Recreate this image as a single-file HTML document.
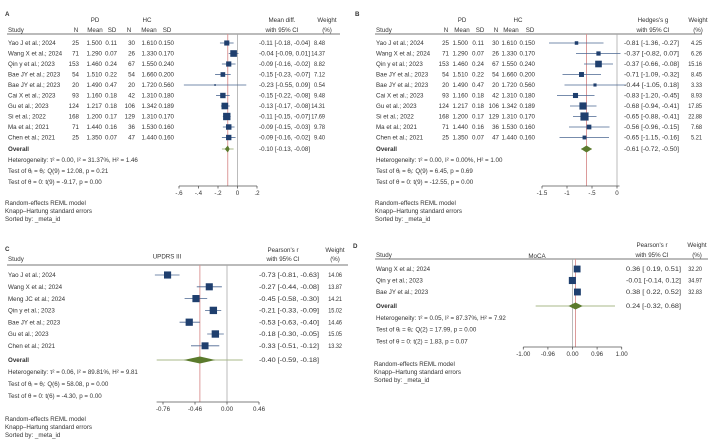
<!DOCTYPE html>
<html><head><meta charset="utf-8"><style>
html,body{margin:0;padding:0;background:#fff;width:709px;height:440px;overflow:hidden}
svg{display:block;font-family:"Liberation Sans",sans-serif}
text{font-size:6.2px;fill:#333}
</style></head><body>
<svg id="fig" width="709" height="440" viewBox="0 0 709 440"></svg>
<script>
// ---- shared table data (panels A, B) ----
const studiesAB = ["Yao J et al.; 2024","Wang X et al.; 2024","Qin y et al.; 2023","Bae JY et al.; 2023","Bae JY et al.; 2023","Cai X et al.; 2023","Gu et al.; 2023","Si  et al.; 2022","Ma  et al.; 2021","Chen  et al.; 2021"];
const pdN = ["25","71","153","54","20","93","124","168","71","25"];
const pdMean = ["1.500","1.290","1.460","1.510","1.490","1.160","1.217","1.200","1.440","1.350"];
const pdSD = ["0.11","0.07","0.24","0.22","0.47","0.18","0.18","0.17","0.16","0.07"];
const hcN = ["30","26","67","54","20","42","106","129","36","47"];
const hcMean = ["1.610","1.330","1.550","1.660","1.720","1.310","1.342","1.310","1.530","1.440"];
const hcSD = ["0.150","0.170","0.240","0.200","0.560","0.180","0.189","0.170","0.160","0.160"];
// ---- panel A ----
const aEst = [-0.11,-0.04,-0.09,-0.15,-0.23,-0.15,-0.13,-0.11,-0.09,-0.09];
const aLo = [-0.18,-0.09,-0.16,-0.23,-0.55,-0.22,-0.17,-0.15,-0.15,-0.16];
const aHi = [-0.04,0.01,-0.02,-0.07,0.09,-0.08,-0.08,-0.07,-0.03,-0.02];
const aW = [8.48,14.37,8.82,7.12,0.54,9.48,14.31,17.69,9.78,9.40];
const aOverall = [-0.10,-0.13,-0.08];
const aPI = [-0.16,-0.04];
const aTicks = [-0.6,-0.4,-0.2,0,0.2];
const aTickLabels = ["-.6","-.4","-.2","0",".2"];
// ---- panel B ----
const bEst = [-0.81,-0.37,-0.37,-0.71,-0.44,-0.83,-0.68,-0.65,-0.56,-0.65];
const bLo = [-1.36,-0.82,-0.66,-1.09,-1.05,-1.20,-0.94,-0.88,-0.96,-1.15];
const bHi = [-0.27,0.07,-0.08,-0.32,0.18,-0.45,-0.41,-0.41,-0.15,-0.16];
const bW = [4.25,6.26,15.16,8.45,3.33,8.93,17.85,22.88,7.68,5.21];
const bOverall = [-0.61,-0.72,-0.50];
const bPI = [-0.72,-0.50];
const bTicks = [-1.5,-1,-0.5,0];
const bTickLabels = ["-1.5","-1","-.5","0"];
// ---- panel C ----
const cStudies = ["Yao J et al.; 2024","Wang X et al.; 2024","Meng JC et al.; 2024","Qin y et al.; 2023","Bae JY et al.; 2023","Gu et al.; 2023","Chen  et al.; 2021"];
const cEst = [-0.73,-0.27,-0.45,-0.21,-0.53,-0.18,-0.33];
const cLo = [-0.81,-0.44,-0.58,-0.33,-0.63,-0.30,-0.51];
const cHi = [-0.63,-0.08,-0.30,-0.09,-0.40,-0.05,-0.12];
const cW = [14.06,13.87,14.21,15.02,14.46,15.05,13.32];
const cOverall = [-0.40,-0.59,-0.18];
const cPI = [-0.80,0.24];
const cTicksZ = [-1,-0.5,0,0.5];
const cTickLabels = ["-0.76","-0.46","0.00","0.46"];
// ---- panel D ----
const dStudies = ["Wang X et al.; 2024","Qin y et al.; 2023","Bae JY et al.; 2023"];
const dEst = [0.36,-0.01,0.38];
const dLo = [0.19,-0.14,0.22];
const dHi = [0.51,0.12,0.52];
const dW = [32.20,34.97,32.83];
const dOverall = [0.24,-0.32,0.68];
const dPI = [-0.995,0.998];
const dTicksZ = [-4,-2,0,2,4];
const dTickLabels = ["-1.00","-0.96","0.00","0.96","1.00"];

const NS="http://www.w3.org/2000/svg";
const svg=document.getElementById('fig');
function mk(tag,attrs,parent){const e=document.createElementNS(NS,tag);for(const k in attrs)e.setAttribute(k,attrs[k]);(parent||svg).appendChild(e);return e;}
function txt(x,y,s,anchor,extra,name){const e=mk('text',Object.assign({x:x,y:y,'text-anchor':anchor||'start'},extra||{}));e.textContent=s;


return e;}
const f2=v=>(v<0?'-':' ')+Math.abs(v).toFixed(2);
function ciText(e,l,h){return f2(e).trim()+" ["+f2(l)+", "+f2(h)+"]";}

function drawPanel(p){
  const g=mk('g',{});
  
  
  txt(p.lx,p.ly,p.letter,'start',{'font-size':'16','font-weight':'bold',fill:'#111'},'panel-letter');
  txt(p.studyX,p.headY,'Study','start',{},'study-header');
  p.headers.forEach(h=>txt(h[0],h[1],h[2],'middle',h[3]||{},'column-header'));
  const hl=mk('line',{x1:p.studyX-1,x2:p.lineEnd,y1:p.lineY,y2:p.lineY,stroke:'#777','stroke-width':1});
  
  
  const zl=mk('line',{x1:p.X(0),x2:p.X(0),y1:p.lineY,y2:p.axisY,stroke:'#aaa','stroke-width':0.8});
  
  
  const rl=mk('line',{x1:p.X(p.overall[0]),x2:p.X(p.overall[0]),y1:p.lineY,y2:p.axisY,stroke:'#d99090','stroke-width':0.9});
  
  
  p.studies.forEach((s,i)=>{
    const y=p.row0+i*p.dy;
    txt(p.studyX,y+2.2,s,'start',{},'study-name');
    (p.cols||[]).forEach(c=>txt(c[0],y+2.2,c[1][i],'end',{},'table-value'));
    const ci=mk('line',{x1:p.X(p.lo[i]),x2:p.X(p.hi[i]),y1:y,y2:y,stroke:'#4a6690','stroke-width':0.8});
    
    
    const sz=Math.max(1.6,Math.sqrt(p.w[i])*p.k);
    const b=mk('rect',{x:p.X(p.est[i])-sz/2,y:y-sz/2,width:sz,height:sz,fill:'#1f3f6e'});
    
    
    txt(p.ciX,y+2.2,ciText(p.est[i],p.lo[i],p.hi[i]),'start',{textLength:p.ciW,lengthAdjust:'spacingAndGlyphs'},'effect-ci-text');
    const ws=p.w[i].toFixed(2);
    txt(p.wX,y+2.2,ws,'end',{textLength:(ws.length*2.75).toFixed(1),lengthAdjust:'spacingAndGlyphs'},'weight-text');
  });
  const oy=p.oy;
  txt(p.studyX,oy+2.2,'Overall','start',{'font-weight':'bold',fill:'#222'},'overall-label');
  const pi=mk('line',{x1:p.X(p.pi[0]),x2:p.X(p.pi[1]),y1:oy,y2:oy,stroke:'#a8b88a','stroke-width':1});
  
  
  const o=p.overall;
  const d=mk('polygon',{points:`${p.X(o[1])},${oy} ${p.X(o[0])},${oy-3.5} ${p.X(o[2])},${oy} ${p.X(o[0])},${oy+3.5}`,fill:'#5b7a2c'});
  
  
  txt(p.ciX,oy+2.2,ciText(o[0],o[1],o[2]),'start',{textLength:p.ciW,lengthAdjust:'spacingAndGlyphs'},'overall-ci-text');
  p.stats.forEach((s,i)=>txt(p.studyX,oy+2.2+(i+1)*p.sdy,s,'start',{},'stat-text'));
  const ax=mk('line',{x1:p.X(p.axisRange[0]),x2:p.X(p.axisRange[1]),y1:p.axisY,y2:p.axisY,stroke:'#555','stroke-width':0.8});
  
  
  p.ticks.forEach((t,i)=>{
    const tk=mk('line',{x1:p.X(t),x2:p.X(t),y1:p.axisY,y2:p.axisY+2.5,stroke:'#555','stroke-width':0.8});
    
    
    txt(p.X(t),p.axisY+9,p.tickLabels[i],'middle',{},'x-tick-label');
  });
  ["Random-effects REML model","Knapp\u2013Hartung standard errors","Sorted by: _meta_id"].forEach((s,i)=>txt(p.footX,p.footY+i*8,s,'start',{},'model-note'));
  if(p.title) txt(p.title[0],p.title[1],p.title[2],'middle',{'font-size':'9.5',fill:'#222'},'panel-title');
}
const atanh=r=>0.5*Math.log((1+r)/(1-r));

drawPanel({name:'panel-a',letter:'A',lx:5,ly:16,studyX:8,headY:32,lineY:34,lineEnd:340,
 headers:[[95,22,'PD'],[147,22,'HC'],[282,22,'Mean diff.'],[282,32,'with 95% CI'],[327,22,'Weight'],[327,32,'(%)'],[76,32,'N'],[95,32,'Mean'],[112,32,'SD'],[129,32,'N'],[149,32,'Mean'],[167,32,'SD']],
 X:v=>237.5+v*97.5,studies:studiesAB,
 cols:[[79,pdN],[102,pdMean],[117,pdSD],[135,hcN],[157,hcMean],[174,hcSD]],
 est:aEst,lo:aLo,hi:aHi,w:aW,k:1.75,row0:43,dy:10.5,ciX:259,ciW:51,wX:325,
 overall:aOverall,pi:aPI,oy:149,sdy:11,
 stats:["Heterogeneity: \u03c4\u00b2 = 0.00, I\u00b2 = 31.37%, H\u00b2 = 1.46","Test of \u03b8\u1d62 = \u03b8\u2c7c: Q(9) = 12.08, p = 0.21","Test of \u03b8 = 0: t(9) = -9.17, p = 0.00"],
 axisY:186,axisRange:[-0.6,0.2],ticks:aTicks,tickLabels:aTickLabels,footX:5,footY:205});

drawPanel({name:'panel-b',letter:'B',lx:355,ly:16,studyX:376,headY:32,lineY:34,lineEnd:702,
 headers:[[462,22,'PD'],[518,22,'HC'],[653,22,"Hedges's g"],[653,32,'with 95% CI'],[698,22,'Weight'],[698,32,'(%)'],[446,32,'N'],[462,32,'Mean'],[480,32,'SD'],[496,32,'N'],[511,32,'Mean'],[530,32,'SD']],
 X:v=>617+v*50,studies:studiesAB,
 cols:[[449,pdN],[468,pdMean],[484,pdSD],[499,hcN],[517,hcMean],[535,hcSD]],
 est:bEst,lo:bLo,hi:bHi,w:bW,k:1.7,row0:43,dy:10.5,ciX:624,ciW:55,wX:702,
 overall:bOverall,pi:bPI,oy:149,sdy:11,
 stats:["Heterogeneity: \u03c4\u00b2 = 0.00, I\u00b2 = 0.00%, H\u00b2 = 1.00","Test of \u03b8\u1d62 = \u03b8\u2c7c: Q(9) = 6.45, p = 0.69","Test of \u03b8 = 0: t(9) = -12.55, p = 0.00"],
 axisY:186,axisRange:[-1.5,0.05],ticks:bTicks,tickLabels:bTickLabels,footX:375,footY:205});

drawPanel({name:'panel-c',letter:'C',lx:5,ly:251,studyX:8,headY:261,lineY:265,lineEnd:348,
 headers:[[283,252,"Pearson's r"],[283,261,'with 95% CI'],[335,252,'Weight'],[335,261,'(%)']],
 title:[167,258.5,'UPDRS III'],
 X:r=>227+atanh(r)*64,studies:cStudies,
 est:cEst,lo:cLo,hi:cHi,w:cW,k:1.9,row0:275,dy:11.8,ciX:259,ciW:60,wX:342,
 overall:cOverall,pi:cPI,oy:360,sdy:12,
 stats:["Heterogeneity: \u03c4\u00b2 = 0.06, I\u00b2 = 89.81%, H\u00b2 = 9.81","Test of \u03b8\u1d62 = \u03b8\u2c7c: Q(6) = 58.08, p = 0.00","Test of \u03b8 = 0: t(6) = -4.30, p = 0.00"],
 axisY:402,axisRange:[Math.tanh(-1.1),Math.tanh(0.5)],ticks:cTicksZ.map(Math.tanh),tickLabels:cTickLabels,footX:5,footY:421});

drawPanel({name:'panel-d',letter:'D',lx:353,ly:248,studyX:376,headY:257,lineY:259,lineEnd:708,
 headers:[[652,247,"Pearson's r"],[652,257,'with 95% CI'],[697,247,'Weight'],[697,257,'(%)']],
 title:[537,258,'MoCA'],
 X:r=>572.5+atanh(Math.max(-0.99999,Math.min(0.99999,r)))*12.3,studies:dStudies,
 est:dEst,lo:dLo,hi:dHi,w:dW,k:1.2,row0:269,dy:11.5,ciX:626,ciW:55,wX:702,
 overall:dOverall,pi:dPI,oy:306,sdy:11.7,
 stats:["Heterogeneity: \u03c4\u00b2 = 0.05, I\u00b2 = 87.37%, H\u00b2 = 7.92","Test of \u03b8\u1d62 = \u03b8\u2c7c: Q(2) = 17.99, p = 0.00","Test of \u03b8 = 0: t(2) = 1.83, p = 0.07"],
 axisY:347,axisRange:[Math.tanh(-4),Math.tanh(4)],ticks:dTicksZ.map(Math.tanh),tickLabels:dTickLabels,footX:374,footY:366});
</script>
</body></html>
